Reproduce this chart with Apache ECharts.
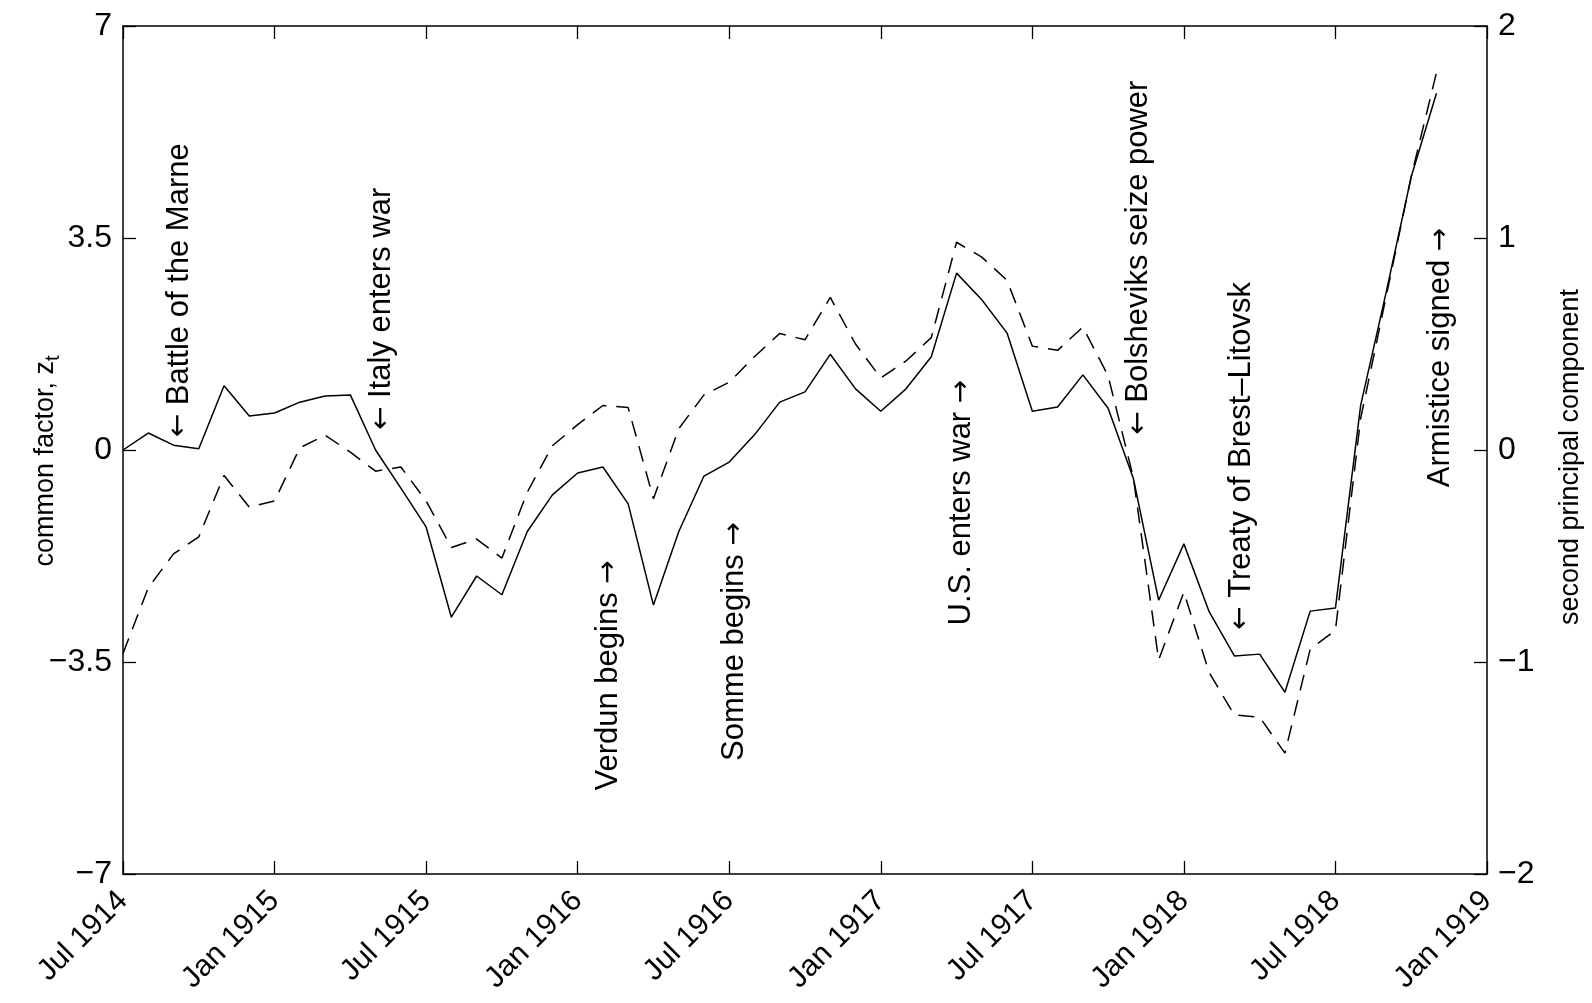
<!DOCTYPE html>
<html><head><meta charset="utf-8">
<script src="https://cdn.jsdelivr.net/npm/echarts@6/dist/echarts.min.js"></script>
<style>html,body{margin:0;padding:0;background:#fff}#c{width:1592px;height:1003px}</style>
</head><body><div id="c"></div>
<script>
// Monthly observations, Jul 1914 .. Nov 1918
const months = ['1914-07','1914-08','1914-09','1914-10','1914-11','1914-12',
  '1915-01','1915-02','1915-03','1915-04','1915-05','1915-06','1915-07','1915-08','1915-09','1915-10','1915-11','1915-12',
  '1916-01','1916-02','1916-03','1916-04','1916-05','1916-06','1916-07','1916-08','1916-09','1916-10','1916-11','1916-12',
  '1917-01','1917-02','1917-03','1917-04','1917-05','1917-06','1917-07','1917-08','1917-09','1917-10','1917-11','1917-12',
  '1918-01','1918-02','1918-03','1918-04','1918-05','1918-06','1918-07','1918-08','1918-09','1918-10','1918-11'];
const xTickLabels = ['Jul 1914','Jan 1915','Jul 1915','Jan 1916','Jul 1916','Jan 1917','Jul 1917','Jan 1918','Jul 1918','Jan 1919'];
const commonFactor = [0.00,0.28,0.08,0.02,1.06,0.56,0.61,0.79,0.89,0.91,0.00,-0.63,-1.27,-2.76,-2.08,-2.39,-1.35,-0.74,
  -0.38,-0.28,-0.89,-2.56,-1.35,-0.43,-0.20,0.25,0.79,0.96,1.58,1.01,0.64,1.01,1.54,2.92,2.48,1.93,0.64,0.71,1.24,0.69,
  -0.47,-2.48,-1.55,-2.67,-3.40,-3.37,-4.00,-2.66,-2.61,0.74,2.59,4.51,5.89];
const secondPC = [-0.96,-0.65,-0.49,-0.41,-0.12,-0.27,-0.24,0.01,0.07,-0.01,-0.10,-0.08,-0.24,-0.46,-0.42,-0.51,-0.20,0.02,
  0.12,0.21,0.20,-0.23,0.10,0.26,0.32,0.44,0.55,0.52,0.72,0.50,0.34,0.42,0.53,0.98,0.91,0.80,0.49,0.47,0.58,0.35,
  -0.13,-0.99,-0.67,-1.05,-1.25,-1.26,-1.43,-0.94,-0.85,0.15,0.72,1.29,1.78];
const leftTicks = [-7,-3.5,0,3.5,7];
const rightTicks = [-2,-1,0,1,2];
// events: arrow before text points down at the date, arrow after text points up at it
const events = [
  {text:'Battle of the Marne', month:'1914-09', arrow:'before'},
  {text:'Italy enters war', month:'1915-05', arrow:'before'},
  {text:'Verdun begins', month:'1916-02', arrow:'after'},
  {text:'Somme begins', month:'1916-07', arrow:'after'},
  {text:'U.S. enters war', month:'1917-04', arrow:'after'},
  {text:'Bolsheviks seize power', month:'1917-11', arrow:'before'},
  {text:'Treaty of Brest\u2013Litovsk', month:'1918-03', arrow:'before'},
  {text:'Armistice signed', month:'1918-11', arrow:'after'}
];
// annotation placement (layout only): x shift in months, anchor level on left axis
const eventLayout = [
  {dx:0.22, y:0.21},
  {dx:0.25, y:0.33},
  {dx:0.22, y:-1.82},
  {dx:0.2, y:-1.19},
  {dx:0.2, y:1.16},
  {dx:0.2, y:0.25},
  {dx:0.26, y:-2.97},
  {dx:0.17, y:3.67}
];

const FONT = '"Liberation Sans", Arial, Helvetica, sans-serif';
const fmtNum = v => (v < 0 ? '\u2212' + Math.abs(v) : String(v));
const chart = echarts.init(document.getElementById('c'), null, {renderer:'canvas'});
const axisLineStyle = {color:'#000', width:1.5};
const tickStyle = {show:true, inside:true, length:13, lineStyle:{color:'#000', width:1.3}};
const lastIdx = (xTickLabels.length - 1) * 6;

chart.setOption({
  backgroundColor:'#fff',
  animation:false,
  grid:{left:123, right:104, top:26, bottom:129, containLabel:false},
  xAxis:[{
    type:'value', min:0, max:lastIdx, interval:6, position:'bottom',
    axisLine:{show:true, onZero:false, lineStyle:axisLineStyle},
    axisTick:tickStyle, splitLine:{show:false},
    axisLabel:{show:true, rotate:45, margin:22, fontSize:30, color:'#000', fontFamily:FONT,
      showMinLabel:true, showMaxLabel:true,
      formatter: v => xTickLabels[Math.round(v/6)] || ''}
  },{
    type:'value', min:0, max:lastIdx, interval:6, position:'top',
    axisLine:{show:true, onZero:false, lineStyle:axisLineStyle},
    axisTick:tickStyle, splitLine:{show:false}, axisLabel:{show:false}
  }],
  yAxis:[{
    type:'value', min:leftTicks[0], max:leftTicks[leftTicks.length-1], interval:3.5, position:'left',
    axisLine:{show:true, onZero:false, lineStyle:axisLineStyle},
    axisTick:tickStyle, splitLine:{show:false},
    axisLabel:{show:true, margin:11, fontSize:32, color:'#000', fontFamily:FONT, formatter: fmtNum},
    name:'common factor, z{s|t}', nameLocation:'middle', nameRotate:90, nameGap:60, nameMoveOverlap:false,
    nameTextStyle:{fontSize:27, color:'#000', fontFamily:FONT, padding:[0,22,0,0],
      rich:{s:{fontSize:20, color:'#000', fontFamily:FONT, padding:[15,0,0,0]}}}
  },{
    type:'value', min:rightTicks[0], max:rightTicks[rightTicks.length-1], interval:1, position:'right',
    axisLine:{show:true, onZero:false, lineStyle:axisLineStyle},
    axisTick:tickStyle, splitLine:{show:false},
    axisLabel:{show:true, margin:11, fontSize:32, color:'#000', fontFamily:FONT, formatter: fmtNum},
    name:'second principal component', nameLocation:'middle', nameRotate:90, nameGap:70, nameMoveOverlap:false,
    nameTextStyle:{fontSize:27, color:'#000', fontFamily:FONT, padding:[0,14,0,0]}
  }],
  series:[{
    name:'common factor', type:'line', xAxisIndex:0, yAxisIndex:0,
    data: commonFactor.map((v,i) => [i, v]),
    showSymbol:false, symbol:'none', lineStyle:{color:'#000', width:1.5, type:'solid'}
  },{
    name:'second principal component', type:'line', xAxisIndex:0, yAxisIndex:1,
    data: secondPC.map((v,i) => [i, v]),
    showSymbol:false, symbol:'none', lineStyle:{color:'#000', width:1.5, type:[16,10]}
  }]
});

const graphics = events.map((e, k) => {
  const L = eventLayout[k];
  const p = chart.convertToPixel({xAxisIndex:0, yAxisIndex:0}, [months.indexOf(e.month) + L.dx, L.y]);
  const before = e.arrow === 'before';
  return {
    type:'text', x:p[0], y:p[1], rotation:Math.PI/2, silent:true,
    style:{
      text: before ? '{a|\u2190} ' + e.text : e.text + ' {a|\u2192}',
      fontSize:31, fontFamily:FONT, fill:'#000',
      align: before ? 'left' : 'right', verticalAlign:'middle',
      rich:{a:{fontSize:28, fontFamily:'"DejaVu Sans", sans-serif', fill:'#000'}}
    }
  };
});
chart.setOption({graphic: graphics});
</script>
</body></html>
